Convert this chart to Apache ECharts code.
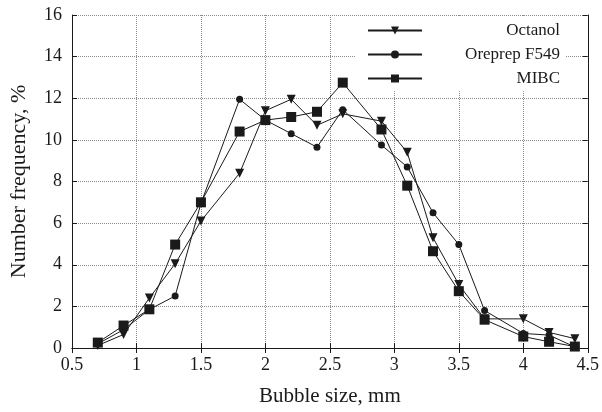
<!DOCTYPE html>
<html>
<head>
<meta charset="utf-8">
<script src="https://cdn.jsdelivr.net/npm/echarts@6/dist/echarts.min.js"></script>
<style>
  html, body { margin: 0; padding: 0; background: #fff; }
  #chart { width: 602px; height: 412px; }
</style>
</head>
<body>
<div id="chart"></div>
<script>
// bubble size (mm) of each measured point
var sizes = [0.7, 0.9, 1.1, 1.3, 1.5, 1.8, 2.0, 2.2, 2.4, 2.6, 2.9, 3.1, 3.3, 3.5, 3.7, 4.0, 4.2, 4.4];

// number frequency, %
var octanol = [0.12, 0.65, 2.4, 4.05, 6.1, 8.4, 11.4, 11.95, 10.7, 11.25, 10.9, 9.4, 5.3, 3.05, 1.4, 1.4, 0.75, 0.45];
var oreprep = [0.2, 0.88, 1.85, 2.5, 6.95, 11.95, 10.95, 10.3, 9.65, 11.45, 9.75, 8.7, 6.5, 4.97, 1.8, 0.7, 0.62, 0.05];
var mibc    = [0.26, 1.08, 1.86, 4.97, 7.0, 10.4, 10.95, 11.1, 11.35, 12.75, 10.5, 7.8, 4.65, 2.73, 1.36, 0.55, 0.3, 0.07];

var seriesNames = ['Octanol', 'Oreprep F549', 'MIBC'];

function pairs(vals) {
    return sizes.map(function (x, i) { return [x, vals[i]]; });
}

var myChart = echarts.init(document.getElementById('chart'));
var serif = '"Liberation Serif", "DejaVu Serif", serif';
var ink = '#1a1a1a';
var dotted = { color: '#8a8a8a', type: [1, 1], width: 1 };

var options = {
    animation: false,
    backgroundColor: '#fff',
    grid: { left: 72, right: 9, top: 15, bottom: 64 },
    legend: {
        left: 355,
        top: 16,
        orient: 'vertical',
        itemWidth: 54,
        itemHeight: 10,
        itemGap: 7,
        backgroundColor: '#fff',
        padding: [6, 6, 4, 12],
        formatter: function (name) { return '{t|' + name + '}'; },
        textStyle: {
            rich: {
                t: {
                    fontFamily: serif,
                    fontSize: 17,
                    color: ink,
                    width: 133,
                    lineHeight: 14,
                    align: 'right'
                }
            }
        },
        data: seriesNames
    },
    xAxis: [{
        type: 'value',
        min: 0.5,
        max: 4.5,
        interval: 0.5,
        name: 'Bubble size, mm',
        nameLocation: 'middle',
        nameGap: 38,
        nameTextStyle: { fontFamily: serif, fontSize: 21, color: ink },
        axisLine: { onZero: false, lineStyle: { color: ink, width: 1 } },
        axisTick: { inside: true, length: 5, lineStyle: { color: ink } },
        axisLabel: { fontFamily: serif, fontSize: 18, color: ink, margin: 8 },
        splitLine: { show: true, lineStyle: dotted }
    }, {
        // top edge of the frame
        type: 'value', min: 0.5, max: 4.5, interval: 0.5, position: 'top',
        axisLine: { lineStyle: { color: ink } },
        axisTick: { inside: true, length: 5, lineStyle: { color: ink } },
        axisLabel: { show: false }, splitLine: { show: false }
    }],
    yAxis: [{
        type: 'value',
        min: 0,
        max: 16,
        interval: 2,
        name: 'Number frequency, %',
        nameLocation: 'middle',
        nameGap: 42,
        nameTextStyle: { fontFamily: serif, fontSize: 22, color: ink },
        axisLine: { show: true, lineStyle: { color: ink, width: 1 } },
        axisTick: { show: true, inside: true, length: 5, lineStyle: { color: ink } },
        axisLabel: { fontFamily: serif, fontSize: 18, color: ink, margin: 10 },
        splitLine: { show: true, lineStyle: dotted }
    }, {
        // right edge of the frame
        type: 'value', min: 0, max: 16, interval: 2, position: 'right',
        axisLine: { show: true, lineStyle: { color: ink } },
        axisTick: { show: true, inside: true, length: 5, lineStyle: { color: ink } },
        axisLabel: { show: false }, splitLine: { show: false }
    }],
    series: [
        {
            name: 'Octanol',
            type: 'line',
            data: pairs(octanol),
            symbol: 'triangle',
            symbolRotate: 180,
            symbolSize: 9,
            lineStyle: { color: ink, width: 1 },
            itemStyle: { color: ink }
        },
        {
            name: 'Oreprep F549',
            type: 'line',
            data: pairs(oreprep),
            symbol: 'circle',
            symbolSize: 7,
            lineStyle: { color: ink, width: 1 },
            itemStyle: { color: ink }
        },
        {
            name: 'MIBC',
            type: 'line',
            data: pairs(mibc),
            symbol: 'rect',
            symbolSize: 10,
            lineStyle: { color: ink, width: 1 },
            itemStyle: { color: ink }
        }
    ]
};

myChart.setOption(options);
</script>
</body>
</html>
